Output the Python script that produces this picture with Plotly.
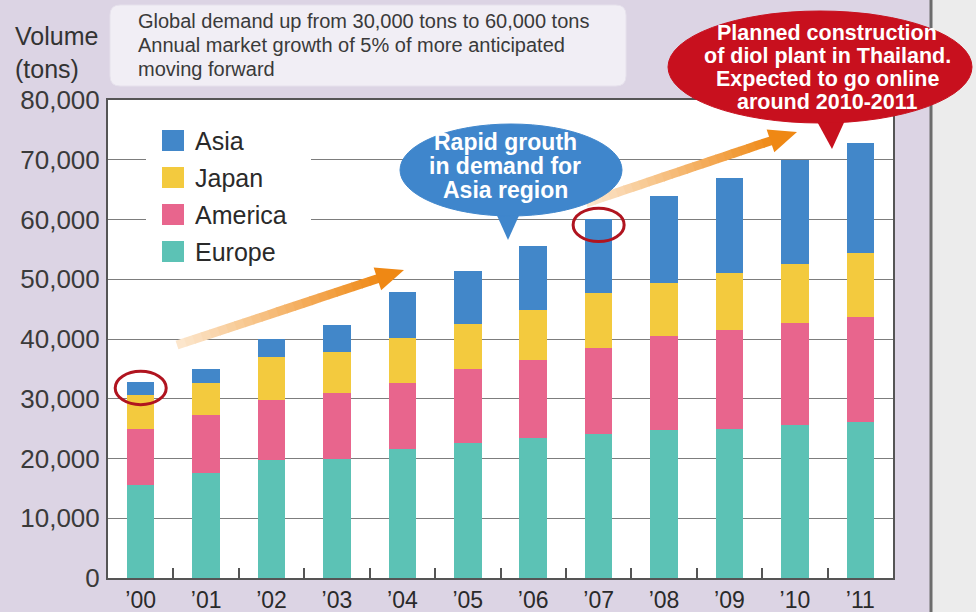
import plotly.graph_objects as go

# ---- data -------------------------------------------------------------
years = ["\u201900", "\u201901", "\u201902", "\u201903", "\u201904", "\u201905",
         "\u201906", "\u201907", "\u201908", "\u201909", "\u201910", "\u201911"]
europe = [15500, 17600, 19800, 19900, 21600, 22600, 23400, 24100, 24700, 24900, 25600, 26100]
america = [9500, 9700, 10000, 11100, 11000, 12400, 13100, 14400, 15800, 16600, 17100, 17600]
japan = [5600, 5300, 7200, 6800, 7500, 7500, 8400, 9200, 8900, 9500, 9900, 10700]
asia = [2200, 2400, 3000, 4500, 7800, 8900, 10700, 12400, 14500, 16000, 17400, 18400]

series_names = ["Europe", "America", "Japan", "Asia"]
series_values = [europe, america, japan, asia]
series_colors = ["#5cc2b5", "#e8658d", "#f3ca3e", "#4287c9"]

y_ticks = [0, 10000, 20000, 30000, 40000, 50000, 60000, 70000, 80000]
y_ticktext = ["0", "10,000", "20,000", "30,000", "40,000", "50,000", "60,000", "70,000", "80,000"]

note_lines = ["Global demand up from 30,000 tons to 60,000 tons",
              "Annual market growth of 5% of more anticipated",
              "moving forward"]
asia_callout = ["Rapid grouth", "in demand for", "Asia region"]
plant_callout = ["Planned construction", "of diol plant in Thailand.",
                 "Expected to go online", "around 2010-2011"]
highlight_years = [0, 7]

# ---- page geometry ----------------------------------------------------
W, H = 976, 612
ML, MR, MT, MB = 108, 83, 100, 34
PW, PH = W - ML - MR, H - MT - MB
FONT = "Liberation Sans, Arial, Helvetica, sans-serif"


def px(x):
    return (x - ML) / PW


def py(y):
    return (H - MB - y) / PH


fig = go.Figure()
for name, vals, col in zip(series_names, series_values, series_colors):
    fig.add_trace(go.Bar(x=years, y=vals, name=name, marker_color=col,
                         marker_line_width=0, width=0.42, showlegend=False,
                         hoverinfo="x+y+name"))

totals = [sum(v) for v in zip(*series_values)]

shapes = []
annotations = []

# right-hand grey panel and its divider
shapes.append(dict(type="rect", xref="paper", yref="paper", layer="below",
                   x0=px(932), x1=px(W + 5), y0=py(H + 5), y1=py(-5),
                   fillcolor="#ececec", line_width=0))
shapes.append(dict(type="line", xref="paper", yref="paper", layer="below",
                   x0=px(931), x1=px(931), y0=py(H + 5), y1=py(-5),
                   line=dict(color="#6c6c6c", width=3)))

# note box (rounded)
bx0, bx1, by0, by1, r = 110, 626, 5, 86, 10
path = (f"M {px(bx0 + r)},{py(by0)} L {px(bx1 - r)},{py(by0)} "
        f"Q {px(bx1)},{py(by0)} {px(bx1)},{py(by0 + r)} L {px(bx1)},{py(by1 - r)} "
        f"Q {px(bx1)},{py(by1)} {px(bx1 - r)},{py(by1)} L {px(bx0 + r)},{py(by1)} "
        f"Q {px(bx0)},{py(by1)} {px(bx0)},{py(by1 - r)} L {px(bx0)},{py(by0 + r)} "
        f"Q {px(bx0)},{py(by0)} {px(bx0 + r)},{py(by0)} Z")
shapes.append(dict(type="path", xref="paper", yref="paper", layer="below", path=path,
                   fillcolor="#f1eef5", line=dict(color="#e6e1ec", width=1)))
for i, line in enumerate(note_lines):
    annotations.append(dict(xref="paper", yref="paper", x=px(136), y=py(21 + i * 24),
                            xanchor="left", yanchor="middle", showarrow=False,
                            text=line, font=dict(family=FONT, size=20, color="#3a3a3a")))

# axis title
annotations.append(dict(xref="paper", yref="paper", x=px(13), y=py(20), xanchor="left",
                        yanchor="top", showarrow=False, align="left",
                        text="Volume<br>(tons)",
                        font=dict(family=FONT, size=25, color="#333333")))

# legend (white patch hides gridlines under it)
shapes.append(dict(type="rect", xref="paper", yref="paper", layer="above",
                   x0=px(146), x1=px(311), y0=py(276), y1=py(114),
                   fillcolor="white", line_width=0))
legend_order = [3, 2, 1, 0]
for k, idx in enumerate(legend_order):
    top = 130 + k * 37
    shapes.append(dict(type="rect", xref="paper", yref="paper", layer="above",
                       x0=px(162), x1=px(184), y0=py(top + 21), y1=py(top),
                       fillcolor=series_colors[idx], line_width=0))
    annotations.append(dict(xref="paper", yref="paper", x=px(193), y=py(top + 11),
                            xanchor="left", yanchor="middle", showarrow=False,
                            text=series_names[idx],
                            font=dict(family=FONT, size=25, color="#2a2a2a")))


# gradient arrows
def lerp(a, b, t):
    return tuple(int(round(a[i] + (b[i] - a[i]) * t)) for i in range(3))


def gradient_arrow(x0, y0, x1, y1, w=9, head_len=28, head_w=24, n=24):
    import math
    dx, dy = x1 - x0, y1 - y0
    L = math.hypot(dx, dy)
    ux, uy = dx / L, dy / L
    nx, ny = -uy, ux
    shaft_len = L - head_len
    c0, c1 = (252, 232, 208), (239, 138, 24)
    for i in range(n):
        a = shaft_len * i / n
        b = shaft_len * (i + 1) / n + 0.8
        t = (i + 0.5) / n
        col = lerp(c0, c1, t)
        pts = [(x0 + ux * a + nx * w / 2, y0 + uy * a + ny * w / 2),
               (x0 + ux * b + nx * w / 2, y0 + uy * b + ny * w / 2),
               (x0 + ux * b - nx * w / 2, y0 + uy * b - ny * w / 2),
               (x0 + ux * a - nx * w / 2, y0 + uy * a - ny * w / 2)]
        p = "M " + " L ".join(f"{px(X)},{py(Y)}" for X, Y in pts) + " Z"
        shapes.append(dict(type="path", xref="paper", yref="paper", layer="above",
                           path=p, fillcolor=f"rgb{col}", line_width=0))
    bx, by = x0 + ux * shaft_len, y0 + uy * shaft_len
    pts = [(x1, y1), (bx + nx * head_w / 2, by + ny * head_w / 2),
           (bx - nx * head_w / 2, by - ny * head_w / 2)]
    p = "M " + " L ".join(f"{px(X)},{py(Y)}" for X, Y in pts) + " Z"
    shapes.append(dict(type="path", xref="paper", yref="paper", layer="above",
                       path=p, fillcolor="rgb(239,136,20)", line_width=0))


gradient_arrow(177, 345, 404, 270)
gradient_arrow(586, 203, 797, 132)

# highlight rings on selected years (centered on the bar tops)
for i in highlight_years:
    shapes.append(dict(type="circle", xref="x", yref="y", layer="above",
                       x0=i - 0.39, x1=i + 0.39,
                       y0=totals[i] - 3800, y1=totals[i] + 1800,
                       line=dict(color="#b0141f", width=3)))


# speech bubbles
def bubble(x0, x1, y0, y1, tip, base_l, base_r, base_y, color, lines, cx, ly0, dy, size):
    shapes.append(dict(type="path", xref="paper", yref="paper", layer="above",
                       path=f"M {px(base_l)},{py(base_y)} L {px(tip[0])},{py(tip[1])} "
                            f"L {px(base_r)},{py(base_y)} Z",
                       fillcolor=color, line_width=0))
    shapes.append(dict(type="circle", xref="paper", yref="paper", layer="above",
                       x0=px(x0), x1=px(x1), y0=py(y1), y1=py(y0),
                       fillcolor=color, line=dict(color=color, width=1)))
    for i, line in enumerate(lines):
        annotations.append(dict(xref="paper", yref="paper", x=px(cx), y=py(ly0 + i * dy),
                                xanchor="center", yanchor="middle", showarrow=False,
                                text=f"<b>{line}</b>",
                                font=dict(family=FONT, size=size, color="white")))


bubble(400, 622, 124, 216, (508, 240), 490, 526, 200, "#3f86cc",
       asia_callout, 505, 142, 24, 23)
bubble(668, 972, 11, 123, (832, 149), 808, 852, 105, "#c8101e",
       plant_callout, 827, 33, 23, 21.5)

fig.update_layout(
    width=W, height=H,
    margin=dict(l=ML, r=MR, t=MT, b=MB, pad=0, autoexpand=False),
    paper_bgcolor="#dcd4e4",
    plot_bgcolor="white",
    barmode="stack",
    bargap=0.58,
    shapes=shapes,
    annotations=annotations,
    font=dict(family=FONT, color="#333333"),
    xaxis=dict(
        type="category", range=[-0.5, 11.5], tickson="boundaries",
        ticks="inside", ticklen=10, tickwidth=1.5, tickcolor="#555555",
        showgrid=False, showline=True, mirror=True, linecolor="#555555", linewidth=2,
        tickfont=dict(family=FONT, size=23, color="#2a2a2a"), fixedrange=True,
        automargin=False, ticklabelstandoff=0,
    ),
    yaxis=dict(
        range=[0, 80000], tickvals=y_ticks, ticktext=y_ticktext,
        showgrid=True, gridcolor="#7d7d7d", gridwidth=1.3, zeroline=False,
        showline=True, mirror=True, linecolor="#555555", linewidth=2,
        ticks="", ticklabelstandoff=1,
        tickfont=dict(family=FONT, size=26, color="#3a3a3a"), fixedrange=True,
        automargin=False,
    ),
)

fig.write_html("out.html")
